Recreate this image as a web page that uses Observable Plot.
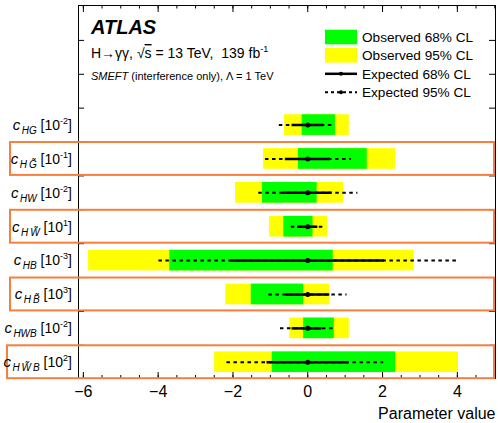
<!DOCTYPE html>
<html><head><meta charset="utf-8">
<script src="https://cdn.jsdelivr.net/npm/d3@7"></script>
<script src="https://cdn.jsdelivr.net/npm/@observablehq/plot@0.6"></script>
<style>body{margin:0;background:#fff} svg{display:block}</style>
</head><body><div id="chart"></div>
<script>
// ---- data ----
const coefficients = ["cHG", "cHGt", "cHW", "cHWt", "cHB", "cHBt", "cHWB", "cHWtB"];
const labelSub = ["HG", "H\u2009G\u0303", "HW", "H\u2009W\u0303", "HB", "H\u2009B\u0303", "HWB", "H\u2009W\u0303\u2009B"];
const labelExp = ["-2", "-1", "-2", "1", "-3", "3", "-2", "2"];
const highlighted = [false, true, false, true, false, true, false, true];
const obs95Lo = [-0.62, -1.18, -1.93, -1.02, -5.86, -2.19, -0.48, -2.49];
const obs95Hi = [1.11, 2.35, 0.96, 0.53, 2.84, 0.58, 1.11, 4.03];
const obs68Lo = [-0.15, -0.25, -1.21, -0.64, -3.69, -1.51, -0.11, -0.95];
const obs68Hi = [0.74, 1.59, 0.25, 0.14, 0.68, -0.11, 0.71, 2.35];
const exp68Lo = [-0.42, -0.60, -0.66, -0.27, -2.06, -0.58, -0.42, -1.09];
const exp68Hi = [0.43, 0.61, 0.65, 0.27, 2.05, 0.59, 0.38, 1.10];
const exp95Lo = [-0.76, -1.13, -1.31, -0.44, -3.98, -1.04, -0.73, -2.16];
const exp95Hi = [0.74, 1.17, 1.34, 0.45, 3.99, 1.05, 0.74, 2.03];
const expCentral = [0, 0, 0, 0, 0, 0, 0, 0];
const xTickLabels = [-6, -4, -2, 0, 2, 4];
const legendLabels = ["Observed 68% CL", "Observed 95% CL", "Expected 68% CL", "Expected 95% CL"];
const legendKinds = ["green", "yellow", "solid", "dashed"];

// ---- layout ----
const W = 498, H = 423;
const mL = 78, mR = 3, mT = 5, mB = 45;
const plotW = W - mL - mR, plotH = H - mT - mB;
const xDomain = [-6.13, 5.02];
const yDomain = [-3.53, 7.48];
const halfBar = 0.305;
const FONT = "'Liberation Sans', Arial, Helvetica, sans-serif";
const GREEN = "#00ff00", YELLOW = "#ffff00", ORANGE = "#f5803e";

const rows = coefficients.map((c, i) => ({
  i, c, hl: highlighted[i],
  o95a: obs95Lo[i], o95b: obs95Hi[i], o68a: obs68Lo[i], o68b: obs68Hi[i],
  e68a: exp68Lo[i], e68b: exp68Hi[i], e95a: exp95Lo[i], e95b: exp95Hi[i], e0: expCentral[i]
}));

const minorX = d3.range(-6, 5.01, 0.5);
const majorX = xTickLabels;
const yTicks = d3.range(-2.5, 7, 1);

const plot = Plot.plot({
  width: W, height: H,
  marginLeft: mL, marginRight: mR, marginTop: mT, marginBottom: mB,
  style: {fontFamily: FONT, background: "white"},
  x: {domain: xDomain},
  y: {domain: yDomain, reverse: true, axis: null},
  marks: [
    Plot.rect(rows, {x1: "o95a", x2: "o95b", y1: d => d.i - halfBar, y2: d => d.i + halfBar, fill: YELLOW}),
    Plot.rect(rows, {x1: "o68a", x2: "o68b", y1: d => d.i - halfBar, y2: d => d.i + halfBar, fill: GREEN}),
    Plot.ruleY(rows, {y: "i", x1: "e95a", x2: "e95b", stroke: "black", strokeWidth: 2, strokeDasharray: "3.5,3.5"}),
    Plot.ruleY(rows, {y: "i", x1: "e68a", x2: "e68b", stroke: "black", strokeWidth: 2.5}),
    Plot.dot(rows, {x: "e0", y: "i", r: 2.5, fill: "black"}),
    // ticks
    Plot.ruleX(minorX, {x: d => d, insetTop: plotH - 3, stroke: "black"}),
    Plot.ruleX(majorX, {x: d => d, insetTop: plotH - 6, stroke: "black"}),
    Plot.ruleX(minorX, {x: d => d, insetBottom: plotH - 3.5, stroke: "black"}),
    Plot.ruleX(majorX, {x: d => d, insetBottom: plotH - 7, stroke: "black"}),
    Plot.ruleY(yTicks, {y: d => d, insetRight: plotW - 6, stroke: "black"}),
    Plot.ruleY(yTicks, {y: d => d, insetLeft: plotW - 6, stroke: "black"}),
    Plot.frame({stroke: "black", strokeWidth: 1}),
    Plot.axisX(majorX, {tickSize: 0, tickPadding: 7, fontSize: 16, fill: "black"}),
    Plot.text(["Parameter value"], {frameAnchor: "bottom-right", dy: 40, lineAnchor: "bottom", textAnchor: "end", text: d => d, fontSize: 16, fill: "black"}),
    // highlight boxes
    Plot.rect(rows.filter(d => d.hl && d.i !== 7), {x1: () => xDomain[0], x2: () => xDomain[1], y1: d => d.i - 0.5, y2: d => d.i + 0.5, fill: "none", stroke: ORANGE, strokeWidth: 2, insetLeft: -(mL - 10), insetRight: 1, insetTop: 0.5, insetBottom: 0.5}),
    Plot.rect(rows.filter(d => d.hl && d.i === 7), {x1: () => xDomain[0], x2: () => xDomain[1], y1: d => d.i - 0.5, y2: d => d.i + 0.5, fill: "none", stroke: ORANGE, strokeWidth: 2, insetLeft: -(mL - 7), insetRight: 1, insetTop: 0.5, insetBottom: 0.5})
  ]
});

const svg = d3.select(plot);
const ys = plot.scale("y");

// y labels
rows.forEach((d, i) => {
  const yc = ys.apply(d.i);
  const t = svg.append("text").attr("x", 72).attr("y", yc + 5.3)
    .attr("text-anchor", "end").attr("font-family", FONT).attr("fill", "black");
  t.append("tspan").attr("font-style", "italic").attr("font-size", 15).text("c");
  t.append("tspan").attr("font-style", "italic").attr("font-size", 10).attr("dx", 1.5).attr("dy", 4).text(labelSub[i]);
  t.append("tspan").attr("font-size", 14).attr("dy", -4).text("\u00a0[10");
  t.append("tspan").attr("font-size", 9).attr("dy", -6).text(labelExp[i]);
  t.append("tspan").attr("font-size", 14).attr("dy", 6).text("]");
});

// header text
svg.append("text").attr("x", 91).attr("y", 34).attr("font-family", FONT).attr("text-anchor", "start")
  .attr("font-size", 20).attr("font-weight", "bold").attr("font-style", "italic").text("ATLAS");
const l2 = svg.append("text").attr("x", 91).attr("y", 58).attr("font-family", FONT).attr("font-size", 14).attr("text-anchor", "start");
l2.append("tspan").text("H\u2192\u03b3\u03b3, \u221a");
l2.append("tspan").attr("text-decoration", "overline").text("s");
l2.append("tspan").text(" = 13 TeV,  139 fb");
l2.append("tspan").attr("font-size", 9).attr("dy", -6).text("-1");
const l3 = svg.append("text").attr("x", 91).attr("y", 80).attr("font-family", FONT).attr("font-size", 11).attr("text-anchor", "start");
l3.append("tspan").attr("font-style", "italic").text("SMEFT");
l3.append("tspan").text(" (interference only), \u039b = 1 TeV");

// legend
const legY = [37, 55.3, 73.8, 92.3];
legendLabels.forEach((lab, k) => {
  const y = legY[k], kind = legendKinds[k];
  if (kind === "green" || kind === "yellow") {
    svg.append("rect").attr("x", 325).attr("y", y - 7.3).attr("width", 32).attr("height", 14.6)
      .attr("fill", kind === "green" ? GREEN : YELLOW);
  } else {
    svg.append("line").attr("x1", 325).attr("x2", 357).attr("y1", y).attr("y2", y)
      .attr("stroke", "black").attr("stroke-width", kind === "solid" ? 2.5 : 2)
      .attr("stroke-dasharray", kind === "solid" ? null : "3,3");
    svg.append("circle").attr("cx", 341).attr("cy", y).attr("r", 2).attr("fill", "black");
  }
  svg.append("text").attr("x", 362).attr("y", y + 5).attr("font-family", FONT).attr("text-anchor", "start")
    .attr("font-size", 13.6).attr("fill", "black").text(lab);
});

document.getElementById("chart").appendChild(plot);
</script></body></html>
